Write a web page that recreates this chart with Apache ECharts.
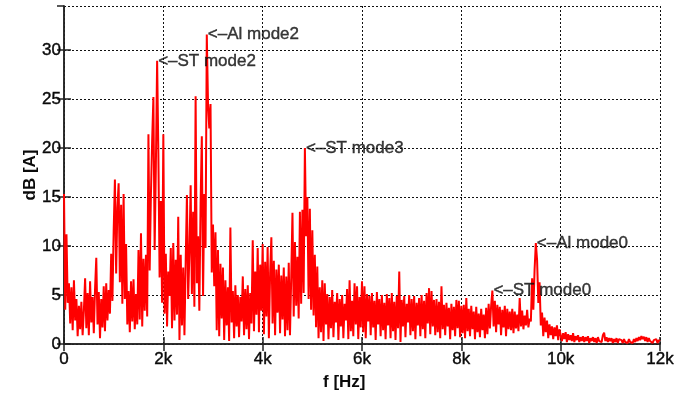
<!DOCTYPE html>
<html>
<head>
<meta charset="utf-8">
<script src="https://cdn.jsdelivr.net/npm/echarts@6/dist/echarts.min.js"></script>
<style>
  html, body { margin: 0; padding: 0; background: #fff; }
  #chart { width: 678px; height: 394px; }
</style>
</head>
<body>
<div id="chart"></div>
<script>
// Current spectrum, one bin every 25 Hz, split into 1 kHz blocks (dB [A])
const FREQ_STEP = 25;

const db0k = [
  15.3, 3.5, 11.2, 4.2, 6.2, 2.1, 5.8, 1.4, 6.5, 2.4, 4.6, 0.8, 3.9, 1.5, 4.3, 0.9, 3.4, 6.7, 1.6, 5.2,
  0.9, 6.4, 2.2, 4.8, 1.1, 5.6, 8.8, 2.0, 5.3, 0.6, 4.6, 1.7, 5.9, 1.3, 6.2, 2.4, 5.5, 3.1, 9.2, 4.4
];
const db1k = [
  11.5, 16.8, 7.2, 13.9, 16.4, 6.3, 14.2, 4.1, 15.3, 4.6, 10.2, 2.0, 5.4, 1.2, 6.4, 2.3, 6.6, 1.5, 5.1, 2.0,
  9.6, 2.5, 11.3, 1.8, 8.7, 3.4, 9.1, 2.8, 21.4, 7.5, 15.2, 20.8, 25.2, 9.6, 18.2, 28.9, 19.5, 6.8, 14.6, 4.2
];
const db2k = [
  21.4, 3.1, 9.2, 1.8, 7.4, 4.9, 9.8, 1.6, 10.3, 2.4, 8.6, 3.0, 13.0, 0.4, 9.1, 1.9, 7.8, 0.9, 8.4, 15.2,
  4.6, 9.3, 16.2, 5.1, 13.5, 3.8, 25.3, 6.2, 11.0, 3.4, 14.4, 21.2, 4.9, 15.3, 9.8, 31.6, 24.5, 22.0, 24.5, 7.3
];
const db3k = [
  12.2, 5.9, 11.4, 1.4, 9.6, 0.8, 8.2, 2.6, 7.8, 0.4, 6.5, 1.9, 5.8, 0.3, 11.9, 2.2, 5.4, 0.6, 6.0, 1.8,
  5.0, 0.7, 4.8, 2.3, 6.9, 0.9, 5.6, 1.5, 6.0, 0.5, 5.2, 2.1, 10.6, 1.3, 7.4, 3.0, 9.8, 1.2, 8.1, 3.4
];
const db4k = [
  10.2, 1.0, 8.4, 2.8, 9.9, 0.6, 7.2, 10.9, 2.1, 8.5, 0.9, 7.6, 3.2, 8.1, 1.1, 7.0, 2.5, 7.8, 0.8, 6.9,
  1.4, 8.3, 0.9, 6.8, 13.4, 2.8, 10.4, 3.9, 8.9, 2.6, 13.5, 4.1, 13.7, 5.2, 20.0, 11.0, 15.0, 4.6, 13.8, 3.5
];
const db5k = [
  11.6, 2.9, 9.1, 1.7, 7.9, 0.6, 5.8, 1.2, 6.5, 0.3, 6.2, 2.0, 5.1, 0.5, 4.8, 1.6, 5.5, 0.7, 4.3, 2.2,
  5.2, 0.4, 4.6, 1.8, 5.0, 0.6, 4.1, 2.4, 5.6, 0.5, 6.5, 1.3, 4.4, 0.8, 6.2, 2.0, 5.9, 0.5, 4.8, 1.7
];
const db6k = [
  6.4, 1.2, 5.9, 0.6, 5.1, 2.3, 4.9, 0.9, 5.2, 1.7, 4.4, 0.4, 5.3, 2.0, 4.6, 0.8, 5.0, 1.4, 4.2, 0.5,
  5.1, 1.9, 4.7, 0.6, 5.2, 1.3, 4.3, 0.4, 4.9, 1.6, 7.4, 0.2, 4.5, 1.8, 4.9, 0.7, 4.1, 2.2, 5.0, 0.9
];
const db7k = [
  4.6, 1.3, 4.9, 0.5, 4.2, 1.9, 4.7, 0.8, 5.0, 1.5, 4.4, 0.6, 5.2, 2.1, 5.7, 1.0, 5.4, 1.8, 4.5, 0.9,
  4.6, 1.2, 4.3, 0.6, 5.9, 1.5, 4.0, 0.9, 4.2, 1.8, 3.7, 0.5, 4.1, 1.4, 3.8, 0.8, 4.5, 1.6, 4.4, 0.7
];
const db8k = [
  3.9, 1.1, 4.0, 0.6, 4.7, 1.3, 3.6, 0.8, 3.9, 1.5, 3.3, 0.5, 3.8, 1.2, 3.1, 0.7, 3.6, 1.4, 3.0, 0.6,
  3.7, 1.0, 4.1, 1.6, 3.9, 5.45, 1.8, 4.4, 1.2, 4.0, 2.0, 3.8, 0.9, 3.5, 1.7, 3.9, 0.8, 3.6, 1.5, 3.3
];
const db9k = [
  1.4, 3.6, 1.1, 3.3, 1.6, 3.0, 1.3, 4.7, 1.8, 3.4, 1.5, 2.9, 1.9, 3.5, 1.7, 2.6, 2.3, 6.7, 3.5, 7.6,
  10.3, 8.6, 4.2, 6.3, 1.9, 3.2, 0.8, 2.7, 1.2, 2.4, 0.6, 2.0, 0.9, 1.8, 0.5, 1.7, 0.8, 1.9, 0.4, 1.5
];
const db10k = [
  1.3, 0.3, 1.1, 0.5, 1.2, 0.2, 1.0, 0.4, 0.9, 0.3, 1.1, 0.2, 0.8, 0.4, 0.9, 0.2, 0.7, 0.3, 0.8, 0.2,
  0.7, 0.3, 0.8, 0.1, 0.6, 0.3, 0.7, 0.2, 0.6, 0.1, 0.7, 0.3, 0.5, 0.2, 0.9, 1.15, 0.3, 0.7, 0.2, 0.6
];
const db11k = [
  0.3, 0.6, 0.1, 0.5, 0.2, 0.6, 0.1, 0.5, 0.3, 0.4, 0.1, 0.5, 0.2, 0.4, 0.1, 0.5, 0.2, 0.4, 0.1, 0.5,
  0.2, 0.6, 0.3, 0.7, 0.4, 0.8, 0.5, 0.75, 0.3, 0.7, 0.2, 0.6, 0.3, 0.5, 0.1, 0.4, 0.2, 0.5, 0.1, 0.4, 0.3
];

// Labelled resonance peaks (Hz) and their names
const peakFreqs = [1875, 2875, 4850, 8625, 9500];
const peakNames = ['ST mode2', 'Al mode2', 'ST mode3', 'ST mode0', 'Al mode0'];

// Axis ticks
const xTickLabels = ['0', '2k', '4k', '6k', '8k', '10k', '12k'];
const yTickLabels = ['0', '5', '10', '15', '20', '25', '30'];

const spectrum = [].concat(db0k, db1k, db2k, db3k, db4k, db5k, db6k, db7k, db8k, db9k, db10k, db11k);
const lineData = spectrum.map((v, i) => [i * FREQ_STEP, v]);
const peakData = peakFreqs.map((f, k) => ({
  value: [f, spectrum[Math.round(f / FREQ_STEP)]],
  name: peakNames[k]
}));

const FONT = 'Liberation Sans, Arial, Helvetica, sans-serif';
const INK = '#0a0a0a';
// a hairline outline in the text colour gives the labels a slightly heavier stroke
const heavy = { textBorderColor: INK, textBorderWidth: 0.4 };
const frame = { show: true, lineStyle: { color: '#222', width: 1.5 } };
const tickIn = { show: true, inside: true, length: 7, lineStyle: { color: '#222', width: 1.5 } };
const dotted = { show: true, lineStyle: { color: '#111', width: 1, type: [2, 2] } };

const chart = echarts.init(document.getElementById('chart'), null, { renderer: 'canvas' });
chart.setOption({
  animation: false,
  backgroundColor: '#fff',
  grid: { left: 64, right: 18, top: 6, bottom: 50 },
  xAxis: [{
    type: 'value', min: 0, max: 12000, interval: 2000,
    axisLine: frame, axisTick: tickIn, splitLine: dotted,
    axisLabel: Object.assign({
      color: INK, fontFamily: FONT, fontSize: 17, margin: 7,
      formatter: v => xTickLabels[Math.round(v / 2000)]
    }, heavy)
  }, {
    type: 'value', position: 'top', min: 0, max: 12000, interval: 2000,
    axisLine: frame, axisTick: tickIn, splitLine: { show: false }, axisLabel: { show: false }
  }],
  yAxis: [{
    type: 'value', min: 0, max: 34.5, interval: 5,
    axisLine: frame, axisTick: tickIn, splitLine: dotted,
    axisLabel: Object.assign({
      color: INK, fontFamily: FONT, fontSize: 17, margin: 3, showMaxLabel: false,
      formatter: v => yTickLabels[Math.round(v / 5)] || ''
    }, heavy),
    name: 'dB [A]', nameLocation: 'middle', nameGap: 25, nameMoveOverlap: false,
    nameTextStyle: { color: INK, fontFamily: FONT, fontSize: 17, fontWeight: 'bold' }
  }, {
    type: 'value', position: 'right', min: 0, max: 34.5, interval: 5,
    axisLine: frame, axisTick: tickIn, splitLine: { show: false }, axisLabel: { show: false }
  }],
  graphic: [{
    type: 'text', left: 323, top: 374,
    style: { text: 'f [Hz]', fill: INK, font: 'bold 17px ' + FONT }
  }],
  series: [{
    type: 'line',
    data: lineData,
    showSymbol: false,
    symbol: 'none',
    lineStyle: { color: '#ff0000', width: 2 },
    z: 3
  }, {
    type: 'scatter',
    data: peakData,
    symbolSize: 0,
    itemStyle: { color: 'transparent' },
    label: Object.assign({
      show: true, position: 'right', distance: 1,
      color: INK, fontFamily: FONT, fontSize: 17,
      formatter: p => '<\u2013' + p.name
    }, heavy),
    z: 5
  }]
});
</script>
</body>
</html>
